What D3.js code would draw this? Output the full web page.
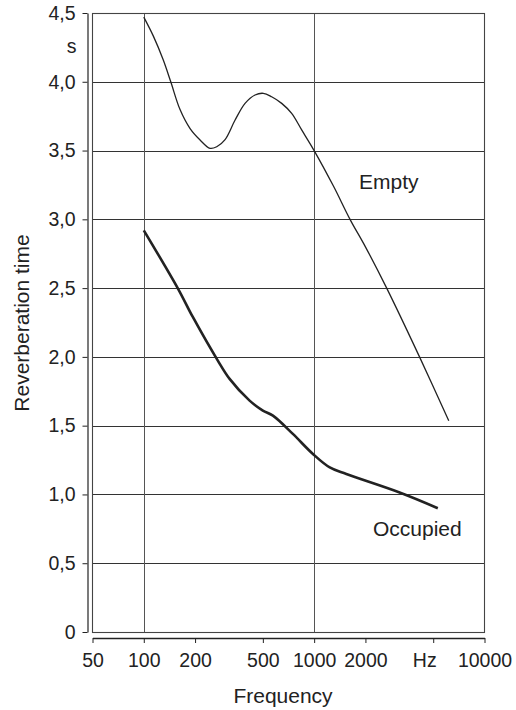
<!DOCTYPE html>
<html>
<head>
<meta charset="utf-8">
<script src="https://cdn.jsdelivr.net/npm/d3@7"></script>
<style>
  html, body { margin: 0; padding: 0; background: #fff; }
  svg { display: block; }
  text { font-family: "Liberation Sans", Arial, Helvetica, sans-serif; fill: #222; }
</style>
</head>
<body>
<svg id="chart" width="516" height="710"></svg>
<script>
// ---- data ----
const xTickValues = [50, 100, 200, 500, 1000, 2000, 5000, 10000];
const xTickLabels = ["50", "100", "200", "500", "1000", "2000", "Hz", "10000"];
const yTickValues = [0, 0.5, 1, 1.5, 2, 2.5, 3, 3.5, 4, 4.5];
const yTickLabels = ["0", "0,5", "1,0", "1,5", "2,0", "2,5", "3,0", "3,5", "4,0", "4,5"];
const xGridValues = [100, 1000];

const emptyFreq  = [100, 114, 130, 144, 163, 187, 214, 245, 268, 300, 343, 393, 450, 503, 563, 645, 738, 845, 1000, 1300, 1624, 2000, 2666, 4155, 6170];
const emptyValue = [4.47, 4.33, 4.16, 4.0, 3.80, 3.66, 3.577, 3.516, 3.528, 3.58, 3.72, 3.843, 3.904, 3.916, 3.891, 3.843, 3.77, 3.65, 3.5, 3.24, 3.0, 2.80, 2.50, 2.0, 1.536];

const occFreq  = [100, 159, 194, 272, 319, 418, 500, 573, 750, 984, 1235, 1545, 3174, 5320];
const occValue = [2.92, 2.495, 2.29, 1.973, 1.84, 1.682, 1.61, 1.573, 1.44, 1.294, 1.196, 1.148, 1.014, 0.90];

const seriesLabels = ["Empty", "Occupied"];
const yUnit = "s";
const xTitle = "Frequency";
const yTitle = "Reverberation time";

// ---- layout ----
const L = 92.5, R = 484.5, T = 13, B = 632;
const svg = d3.select("#chart");

const x = d3.scaleLog().domain([50, 10000]).range([L, R]);
const y = d3.scaleLinear().domain([0, 4.5]).range([B, T]);

const ink = "#222";

// horizontal grid lines
svg.append("g").selectAll("line")
  .data(yTickValues)
  .join("line")
  .attr("x1", L).attr("x2", R)
  .attr("y1", d => Math.round(y(d)) + 0.5).attr("y2", d => Math.round(y(d)) + 0.5)
  .attr("stroke", "#333").attr("stroke-width", 1.2);

// vertical grid lines
svg.append("g").selectAll("line")
  .data(xGridValues)
  .join("line")
  .attr("x1", d => Math.round(x(d)) + 0.5).attr("x2", d => Math.round(x(d)) + 0.5)
  .attr("y1", T).attr("y2", B)
  .attr("stroke", "#555").attr("stroke-width", 1);

// frame
svg.append("rect")
  .attr("x", L).attr("y", T + 0.5)
  .attr("width", R - L).attr("height", B - T)
  .attr("fill", "none").attr("stroke", "#444").attr("stroke-width", 1.1);

// bottom axis
const xAxis = d3.axisBottom(x)
  .tickValues(xTickValues)
  .tickFormat((d, i) => xTickLabels[i])
  .tickSize(5).tickSizeOuter(0).tickPadding(10);
const gx = svg.append("g").attr("transform", `translate(0,${B + 6})`).call(xAxis);
gx.select(".domain").attr("stroke", ink).attr("stroke-width", 1.6);
gx.selectAll(".tick line").attr("stroke", ink).attr("stroke-width", 1);
gx.selectAll(".tick text")
  .attr("font-size", "19.5px")
  .attr("font-family", "Liberation Sans, Arial, sans-serif")
  .attr("fill", ink)
  .attr("dx", d => d === 5000 ? -9 : 0);

// left axis
const yAxis = d3.axisLeft(y)
  .tickValues(yTickValues)
  .tickFormat((d, i) => yTickLabels[i])
  .tickSize(5).tickSizeOuter(0).tickPadding(7);
const gy = svg.append("g").attr("transform", `translate(${L - 5},0)`).call(yAxis);
gy.select(".domain").attr("stroke", ink).attr("stroke-width", 1.2);
gy.selectAll(".tick line").attr("stroke", ink).attr("stroke-width", 1);
gy.selectAll(".tick text")
  .attr("font-size", "19.5px")
  .attr("font-family", "Liberation Sans, Arial, sans-serif")
  .attr("fill", ink);

// unit label
svg.append("text")
  .attr("x", 71.5).attr("y", 53)
  .attr("text-anchor", "middle")
  .attr("font-size", "19.5px")
  .text(yUnit);

// axis titles
svg.append("text")
  .attr("x", 283).attr("y", 703)
  .attr("text-anchor", "middle")
  .attr("font-size", "21px")
  .text(xTitle);

svg.append("text")
  .attr("transform", "translate(29,323) rotate(-90)")
  .attr("text-anchor", "middle")
  .attr("font-size", "21px")
  .text(yTitle);

// curves
const line = d3.line()
  .x(d => x(d[0]))
  .y(d => y(d[1]))
  .curve(d3.curveCatmullRom.alpha(0.5));

svg.append("path")
  .datum(d3.zip(emptyFreq, emptyValue))
  .attr("d", line)
  .attr("fill", "none")
  .attr("stroke", ink)
  .attr("stroke-width", 1.3);

svg.append("path")
  .datum(d3.zip(occFreq, occValue))
  .attr("d", line)
  .attr("fill", "none")
  .attr("stroke", ink)
  .attr("stroke-width", 2.6);

// series labels
svg.append("text")
  .attr("x", 359).attr("y", 188.5)
  .attr("font-size", "21px")
  .text(seriesLabels[0]);

svg.append("text")
  .attr("x", 373).attr("y", 536)
  .attr("font-size", "21px")
  .text(seriesLabels[1]);
</script>
</body>
</html>
